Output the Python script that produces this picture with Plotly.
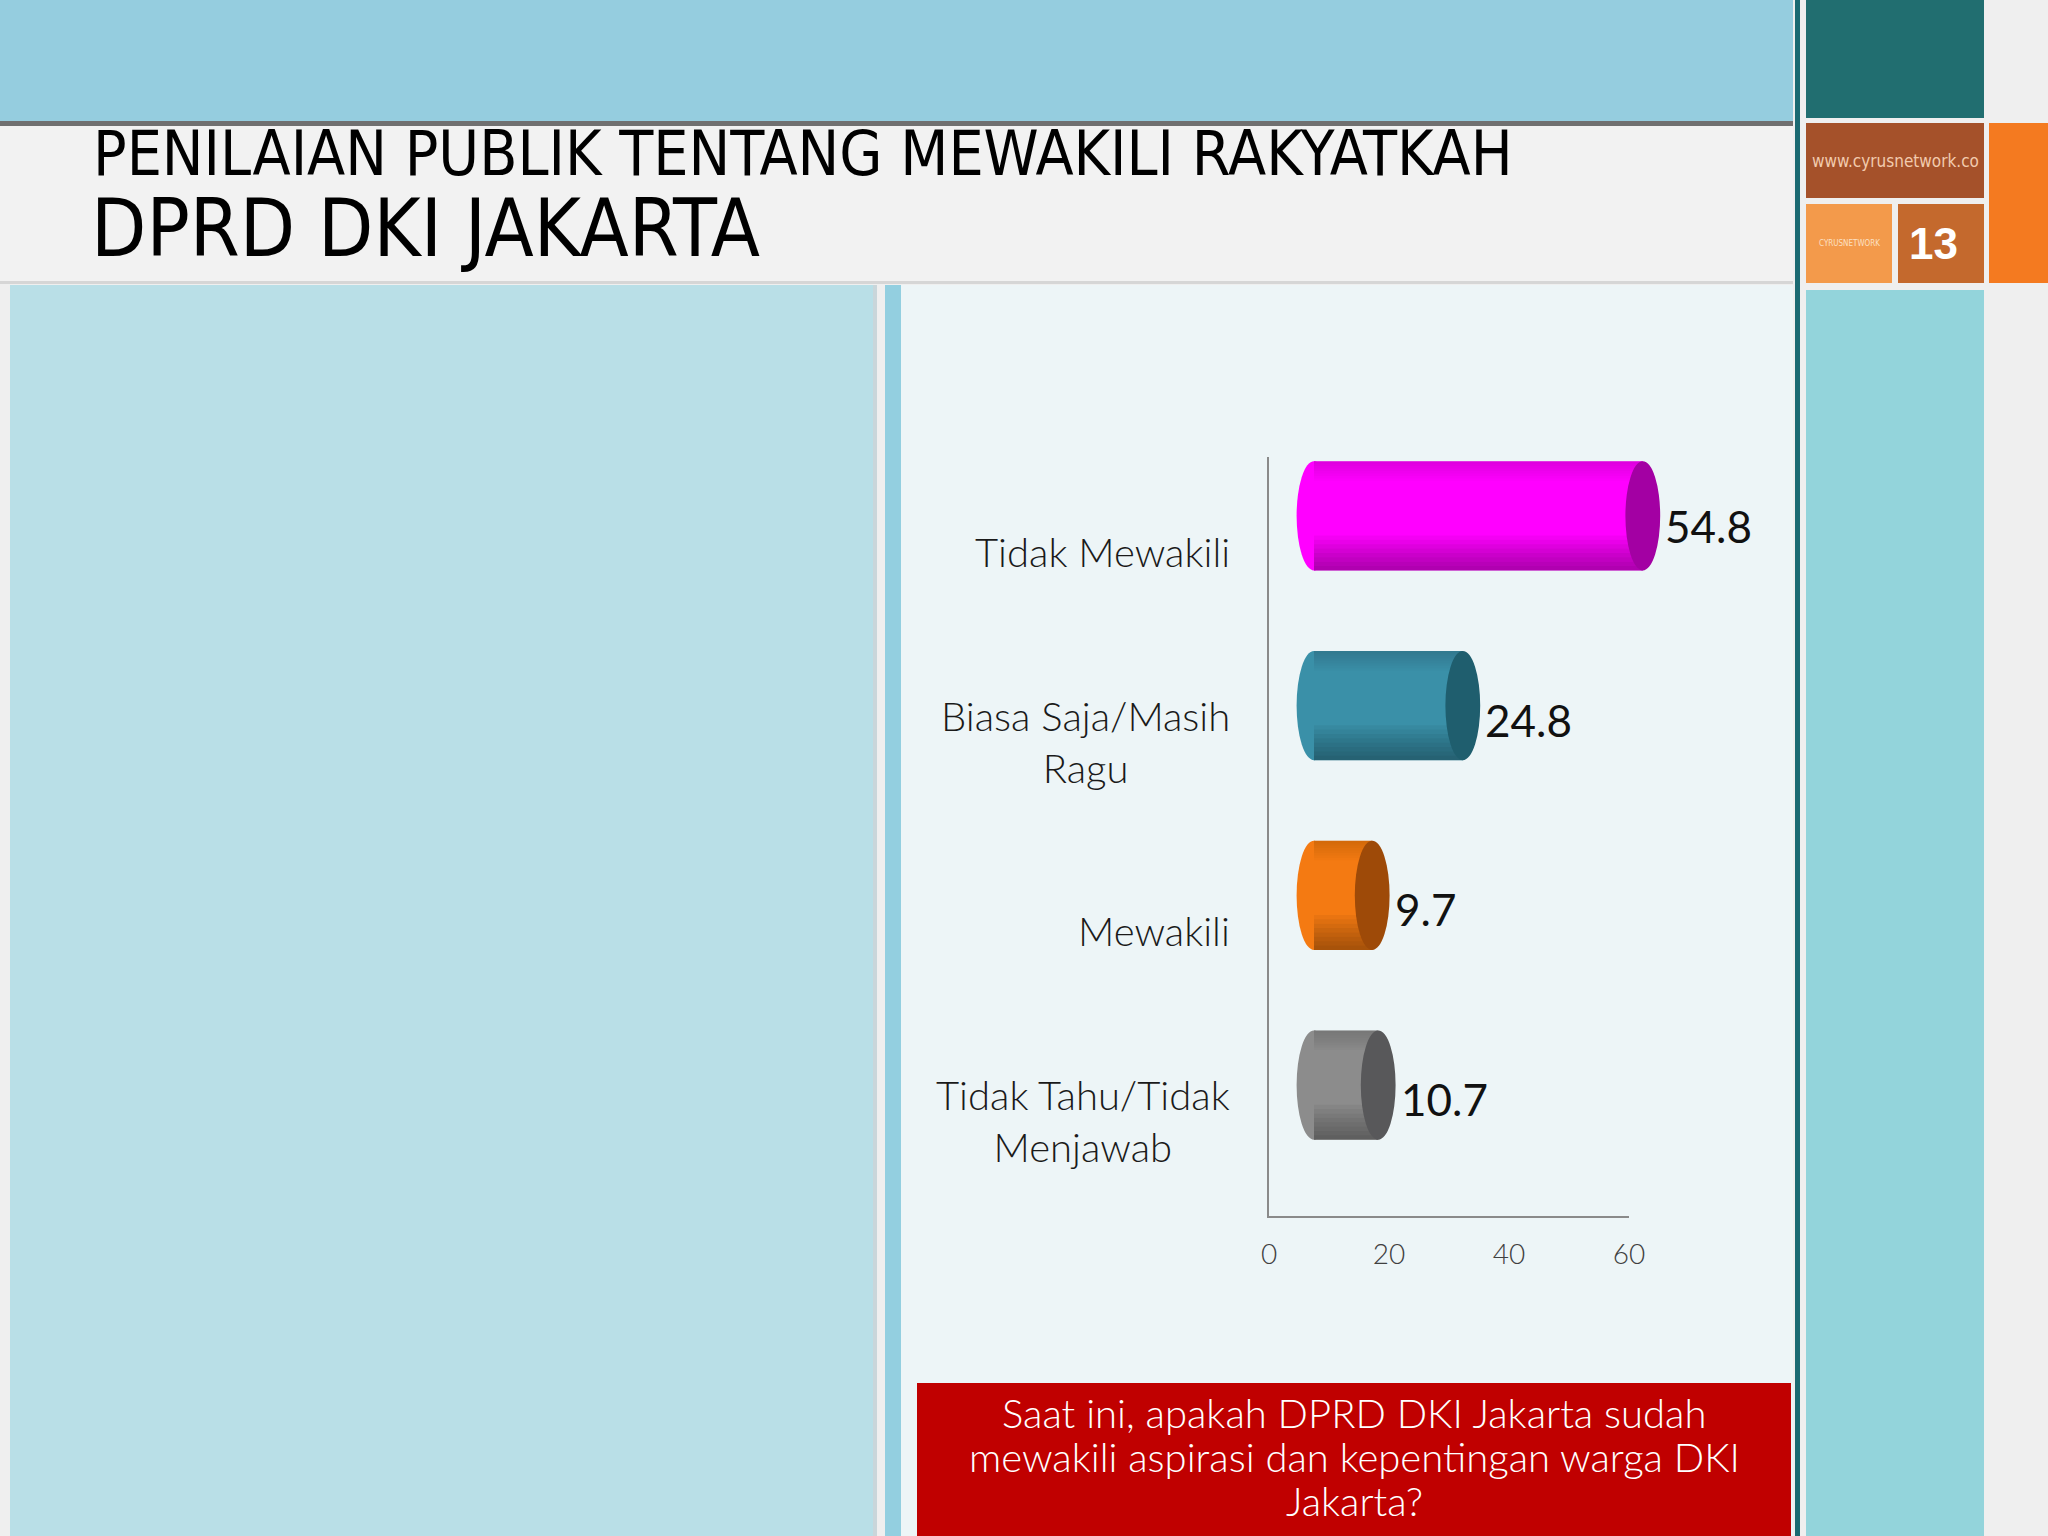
import plotly.graph_objects as go

# ---------------- data ----------------
categories = ["Tidak Mewakili", "Biasa Saja/Masih Ragu", "Mewakili", "Tidak Tahu/Tidak Menjawab"]
category_labels = ["Tidak Mewakili", "Biasa Saja/Masih<br>Ragu", "Mewakili", "Tidak Tahu/Tidak<br>Menjawab"]
values = [54.8, 24.8, 9.7, 10.7]
x_ticks = [0, 20, 40, 60]
body_colors = ["#FF00FF", "#3A90A8", "#F47A12", "#8C8C8C"]
cap_colors = ["#A300A3", "#1F5E6E", "#9E4A08", "#58585A"]

title_line1 = "PENILAIAN PUBLIK TENTANG MEWAKILI RAKYATKAH"
title_line2 = "DPRD DKI JAKARTA"
question_lines = ["Saat ini, apakah DPRD DKI Jakarta sudah",
                  "mewakili aspirasi dan kepentingan warga DKI",
                  "Jakarta?"]
site_text = "www.cyrusnetwork.co"
page_number = "13"

# ---------------- layout helpers ----------------
W, H = 2048, 1536


def px(x):
    return x / W


def py(y):
    return 1 - y / H


shapes = []


def rect(x0, y0, x1, y1, color, opacity=1.0):
    shapes.append(dict(type="rect", xref="paper", yref="paper",
                       x0=px(x0), x1=px(x1), y0=py(y1), y1=py(y0),
                       fillcolor=color, line=dict(width=0), layer="below",
                       opacity=opacity))


# page decoration
rect(0, 0, 1793, 122, "#95CDDF")            # top band
rect(0, 121, 1793, 126, "#707070")          # dark line under band
rect(0, 126, 1793, 282, "#F2F2F2")          # title area
rect(0, 281, 1793, 284, "#D6D6D6")          # thin line under title
rect(10, 285, 875, 1536, "#B9DFE7")         # left panel
rect(873, 285, 877, 1536, "#C9D6DA")        # panel edge
rect(885, 285, 901, 1536, "#93CFE0")        # blue stripe
rect(901, 285, 1793, 1536, "#EDF5F7")       # chart panel
rect(1795, 0, 1800, 1536, "#1B6A72")        # dark teal vertical line
rect(1806, 0, 1984, 118, "#216E70")         # teal block
rect(1806, 123, 1984, 198, "#A5512A")       # brown block
rect(1806, 204, 1892, 283, "#F39A4B")       # logo block
rect(1898, 204, 1984, 283, "#C4692D")       # page number block
rect(1989, 123, 2048, 283, "#F47A20")       # orange block
rect(1806, 290, 1984, 1536, "#93D4DB")      # teal column
rect(917, 1383, 1791, 1536, "#C00000")      # red question box

# ---------------- chart ----------------
BAR_W = 0.576
BAR_OFF = -0.478
CAP = 2.9  # half width of cylinder caps in axis units (6 px per unit)

fig = go.Figure()
fig.add_trace(go.Bar(
    x=values, y=categories, orientation="h",
    marker=dict(color=body_colors, line=dict(width=0)),
    width=BAR_W, offset=BAR_OFF,
    xaxis="x2", yaxis="y", hoverinfo="skip", showlegend=False,
))

N_BANDS = 8
for i, v in enumerate(values):
    y0 = i + BAR_OFF
    y1 = y0 + BAR_W
    # left rounded end
    shapes.append(dict(type="circle", xref="x2", yref="y", x0=-CAP, x1=CAP,
                       y0=y0, y1=y1, fillcolor=body_colors[i],
                       line=dict(width=0), layer="below"))
    # cylinder shading: darker towards the bottom and slightly at the top
    for k in range(N_BANDS):
        shapes.append(dict(type="rect", xref="x2", yref="y", x0=0, x1=v,
                           y0=y1 - (k + 1) / N_BANDS * 0.32 * BAR_W, y1=y1,
                           fillcolor="black", opacity=0.045,
                           line=dict(width=0), layer="above"))
        shapes.append(dict(type="rect", xref="x2", yref="y", x0=0, x1=v,
                           y0=y0, y1=y0 + (k + 1) / N_BANDS * 0.18 * BAR_W,
                           fillcolor="black", opacity=0.015,
                           line=dict(width=0), layer="above"))
    # right end cap
    shapes.append(dict(type="circle", xref="x2", yref="y", x0=v - CAP, x1=v + CAP,
                       y0=y0, y1=y1, fillcolor=cap_colors[i],
                       line=dict(width=0), layer="above"))

annotations = []
light = dict(family="Lato, Open Sans, sans-serif", weight=300)

for i, lab in enumerate(category_labels):
    annotations.append(dict(x=0, xref="x", y=i, yref="y", text=lab,
                            xanchor="right", yanchor="middle", xshift=-37,
                            align="center", showarrow=False,
                            font=dict(size=40, color="#1A1A1A", **light)))

label_yshift = [-10, -14, -14, -14]
for i, v in enumerate(values):
    annotations.append(dict(x=v, xref="x2", y=i + BAR_OFF + BAR_W / 2, yref="y",
                            text=f"{v}", xanchor="left", yanchor="middle",
                            xshift=CAP * 6 + 3, yshift=label_yshift[i], showarrow=False,
                            font=dict(size=44, color="#111111",
                                      family="Lato, Open Sans, sans-serif")))

title_font = "Liberation Sans Narrow, DejaVu Sans Condensed, Arial Narrow, sans-serif"
annotations += [
    dict(x=px(91), y=py(154), xref="paper", yref="paper", text=title_line1,
         xanchor="left", yanchor="middle", showarrow=False,
         font=dict(size=62, color="#000000", family=title_font)),
    dict(x=px(89), y=py(228), xref="paper", yref="paper", text=title_line2,
         xanchor="left", yanchor="middle", showarrow=False,
         font=dict(size=80, color="#000000", family=title_font)),
    dict(x=px(1895), y=py(161), xref="paper", yref="paper", text=site_text,
         xanchor="center", yanchor="middle", showarrow=False,
         font=dict(size=17, color="#F2CBAE", family=title_font)),
    dict(x=px(1849), y=py(244), xref="paper", yref="paper", text="CYRUSNETWORK",
         xanchor="center", yanchor="middle", showarrow=False,
         font=dict(size=8, color="#FCE0C4", family=title_font)),
    dict(x=px(1933), y=py(243), xref="paper", yref="paper", text=page_number,
         xanchor="center", yanchor="middle", showarrow=False,
         font=dict(size=44, color="#FFFFFF",
                   family="Liberation Sans, Arial, sans-serif", weight="bold")),
]
for k, line in enumerate(question_lines):
    annotations.append(dict(x=px(1354), y=py(1413 + 44 * k), xref="paper", yref="paper",
                            text=line, xanchor="center", yanchor="middle",
                            showarrow=False,
                            font=dict(size=40, color="#FFFFFF", **light)))

x_left, px_per_unit = 1269, 6.0
front_shift = 7.5  # 3-D front plane offset, in axis units
fig.update_layout(
    width=W, height=H,
    margin=dict(l=0, r=0, t=0, b=0),
    paper_bgcolor="#EFEFEF",
    plot_bgcolor="rgba(0,0,0,0)",
    showlegend=False,
    shapes=shapes,
    annotations=annotations,
    xaxis=dict(domain=[px(x_left), px(x_left + 60 * px_per_unit)], range=[0, 60],
               tickvals=x_ticks, ticktext=[str(t) for t in x_ticks],
               showgrid=False, zeroline=False, showline=True,
               linecolor="#8A8A8A", linewidth=2, ticks="",
               ticklabelstandoff=12, automargin=False,
               tickfont=dict(size=28, color="#404040", **light)),
    xaxis2=dict(anchor="y",
                domain=[px(x_left), px(x_left + (60 + front_shift + 3) * px_per_unit)],
                range=[-front_shift, 63], visible=False,
                showgrid=False, zeroline=False),
    yaxis=dict(domain=[py(1216), py(457)], type="category",
               categoryorder="array", categoryarray=categories,
               range=[3.5, -0.5], showgrid=False, zeroline=False,
               showline=True, linecolor="#8A8A8A", linewidth=2,
               showticklabels=False, ticks="", automargin=False),
)

fig.write_html("out.html", config={"displayModeBar": False},
               post_script="document.body.style.margin='0';")
